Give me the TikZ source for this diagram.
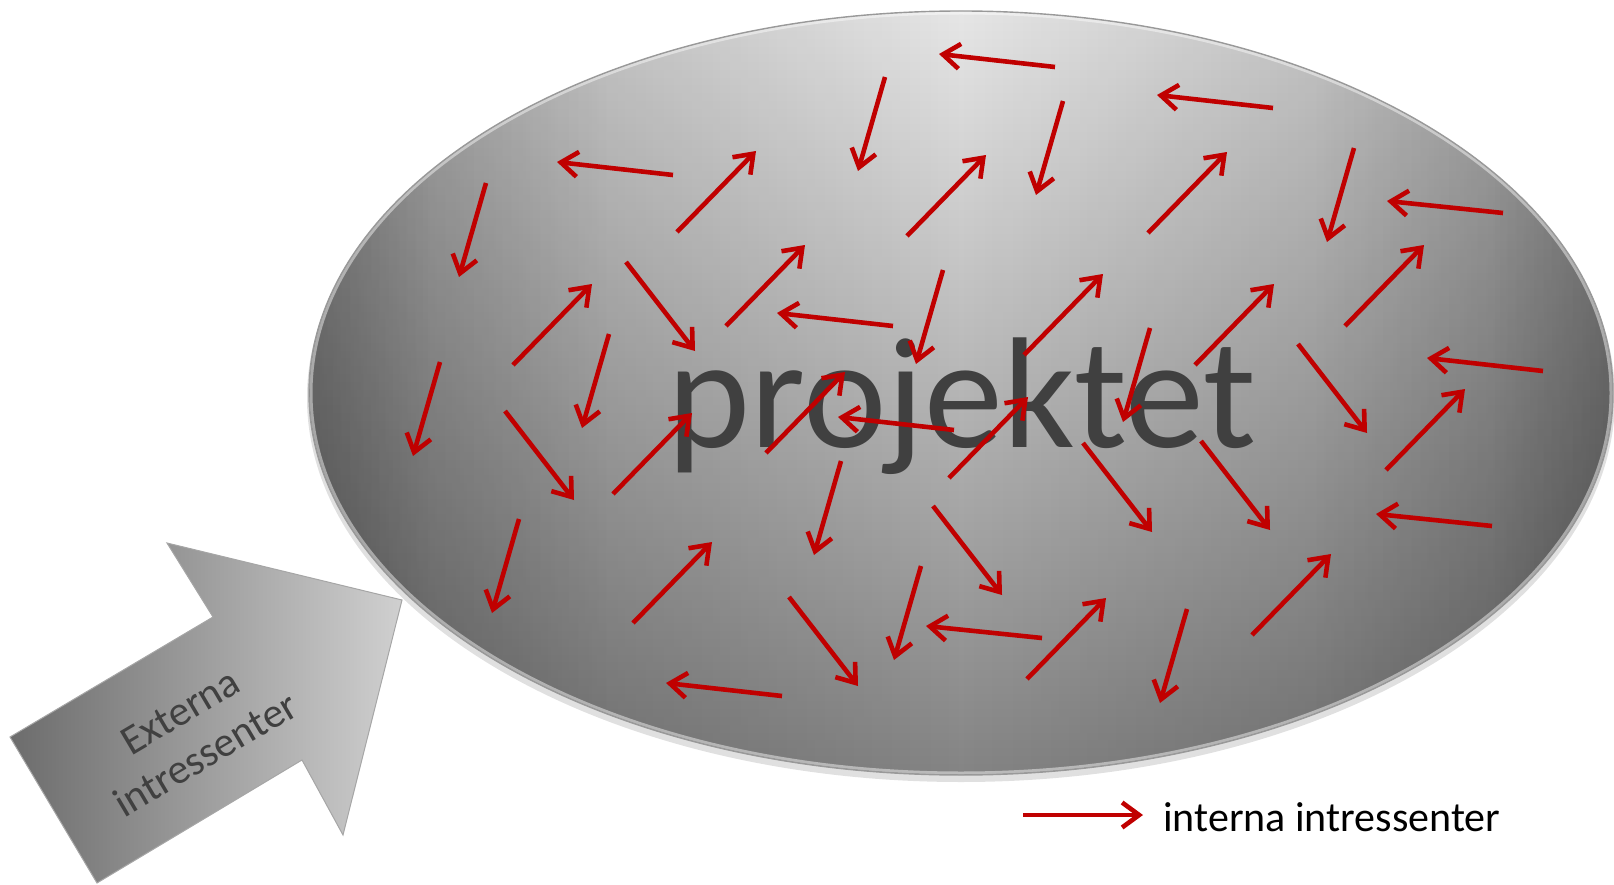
\documentclass[tikz,border=0pt]{standalone}
\usepackage{fontspec}
\setmainfont{Carlito}
\usepackage{tikz}
\usetikzlibrary{arrows.meta,fadings}

\definecolor{pilrod}{RGB}{192,0,0}
\definecolor{textgra}{RGB}{64,64,64}

\tikzfading[name=franvanster, left color=transparent!0, right color=transparent!100]
\tikzfading[name=franhoger, left color=transparent!100, right color=transparent!0]

\begin{document}
\begin{tikzpicture}[x=1pt, y=-1pt,
  intern/.style={draw=pilrod, line width=4.6pt, -{Straight Barb[length=17pt,width=25pt]}},
  kant/.style={fill=black, opacity=#1}]

\useasboundingbox (0,0) rectangle (1614,885);

\coordinate (M) at (961,393);

% ellipsen
\fill [black, opacity=0.12] ([yshift=-5pt]M) ellipse [x radius=654, y radius=384];
\shade [top color={rgb,255:red,230;green,230;blue,230}, bottom color={rgb,255:red,132;green,132;blue,132}] (M) ellipse [x radius=652, y radius=382];
\begin{scope}
  \clip (M) ellipse [x radius=652, y radius=382];
  \fill [kant=0.27, path fading=franvanster] (309,0) rectangle (961,800);
  \fill [kant=0.16, path fading=franvanster] (309,0) rectangle (609,800);
  \fill [kant=0.11, path fading=franvanster] (309,0) rectangle (429,800);
  \fill [kant=0.27, path fading=franhoger] (961,0) rectangle (1613,800);
  \fill [kant=0.16, path fading=franhoger] (1313,0) rectangle (1613,800);
  \fill [kant=0.11, path fading=franhoger] (1493,0) rectangle (1613,800);
  \draw [white, opacity=0.45, line width=3pt] (M) ellipse [x radius=650, y radius=380];
\end{scope}
\draw [color=gray!80, line width=1.4pt] (M) ellipse [x radius=652, y radius=382];

\node [text=textgra, anchor=base, font=\fontsize{158}{166}\selectfont] (proj) at (962,447) {projektet};

% externa pilen
\coordinate (T1) at (10,737);
\coordinate (N1) at (213,617);
\coordinate (B1) at (167,543);
\coordinate (S) at (402,600);
\coordinate (B2) at (343,835);
\coordinate (N2) at (302,760);
\coordinate (T2) at (97,883);

\shade [left color={rgb,255:red,108;green,108;blue,108}, right color={rgb,255:red,208;green,208;blue,208}, draw=gray!70, line width=1pt]
  (T1)--(N1)--(B1)--(S)--(B2)--(N2)--(T2)--cycle;
\node [rotate=30.6, text=textgra, align=center, font=\fontsize{42}{50}\selectfont] (ext) at (193,733) {Externa\\intressenter};

% vänster
\draw [intern] (673,175)--++(-116,-13);
\draw [intern] (893,326)--++(-116,-13);
\draw [intern] (782,696)--++(-116,-13);
\draw [intern] (1055,67)--++(-116,-13);
\draw [intern] (1273,108)--++(-116,-13);
\draw [intern] (1503,213)--++(-116,-12);
\draw [intern] (1543,371)--++(-116,-13);
\draw [intern] (1492,526)--++(-116,-12);
\draw [intern] (954,430)--++(-116,-13);
\draw [intern] (1042,638)--++(-116,-12);

% nedåt
\draw [intern] (486,183)--++(-27,94);
\draw [intern] (440,362)--++(-27,94);
\draw [intern] (609,334)--++(-27,94);
\draw [intern] (519,519)--++(-27,94);
\draw [intern] (885,77)--++(-27,94);
\draw [intern] (1063,101)--++(-27,94);
\draw [intern] (943,270)--++(-27,94);
\draw [intern] (1150,328)--++(-27,94);
\draw [intern] (1354,148)--++(-27,94);
\draw [intern] (1187,609)--++(-27,94);
\draw [intern] (841,461)--++(-27,94);
\draw [intern] (921,566)--++(-27,94);

% uppåt
\draw [intern] (677,232)--++(79,-81);
\draw [intern] (513,365)--++(79,-81);
\draw [intern] (726,326)--++(79,-81);
\draw [intern] (613,494)--++(79,-81);
\draw [intern] (633,623)--++(79,-81);
\draw [intern] (766,453)--++(79,-81);
\draw [intern] (907,236)--++(79,-81);
\draw [intern] (1148,233)--++(79,-81);
\draw [intern] (1024,355)--++(79,-81);
\draw [intern] (1345,326)--++(79,-81);
\draw [intern] (1195,365)--++(79,-81);
\draw [intern] (1386,470)--++(79,-81);
\draw [intern] (1252,635)--++(79,-81);
\draw [intern] (949,478)--++(79,-81);
\draw [intern] (1027,679)--++(79,-81);

% snett nedåt
\draw [intern] (626,262)--++(69,89);
\draw [intern] (505,411)--++(69,89);
\draw [intern] (1298,344)--++(69,89);
\draw [intern] (1201,441)--++(69,89);
\draw [intern] (1083,443)--++(69,89);
\draw [intern] (933,506)--++(69,89);
\draw [intern] (789,597)--++(69,89);

% förklaring
\coordinate (L1) at (1023,815);
\coordinate (L2) at (1143,815);
\draw [intern] (L1)--(L2);
\node [anchor=base west, inner sep=0pt, font=\fontsize{42}{50}\selectfont] (leg) at (1163,831) {interna intressenter};

\end{tikzpicture}
\end{document}
